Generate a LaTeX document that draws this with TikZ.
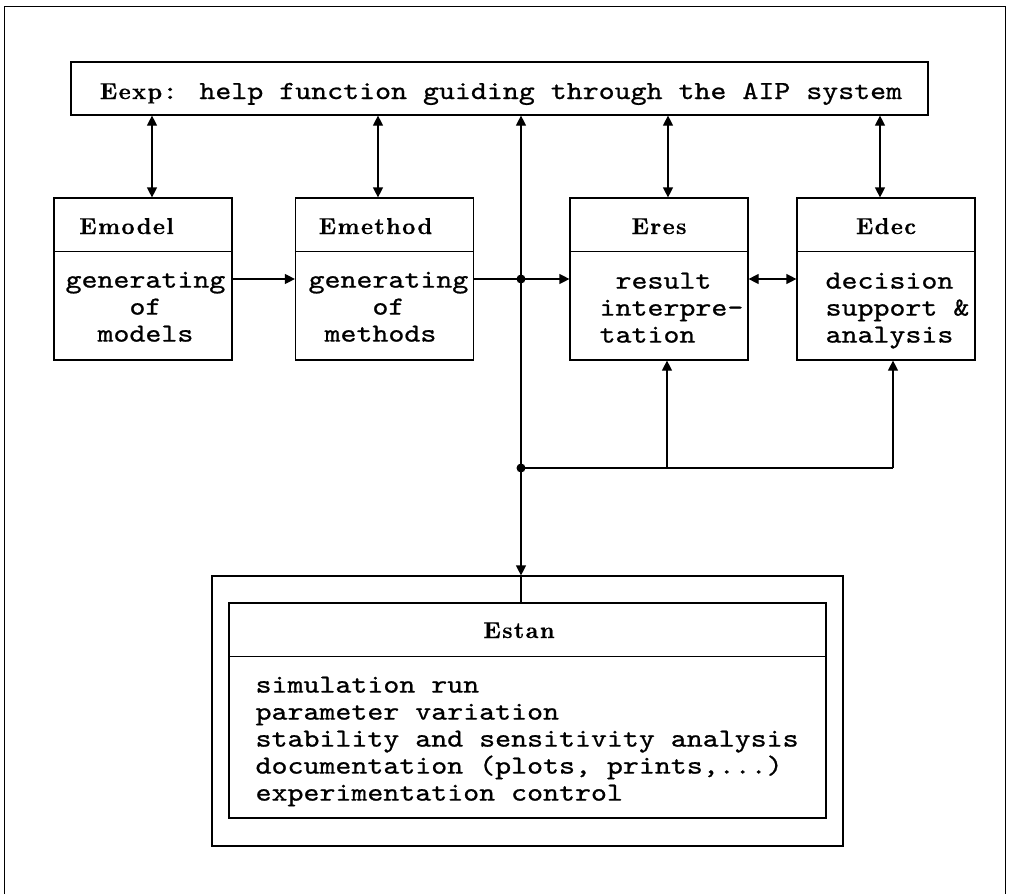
\documentclass[tikz,border=0pt]{standalone}
\usepackage{fontspec}
\usetikzlibrary{arrows.meta}

% typewriter text and the spaced bold labels of the modules
\newfontfamily\twfamily{lmmono10-regular.otf}[FakeStretch=1.17,FakeBold=0.8]
\newfontfamily\hdfamily{lmroman10-bold.otf}[LetterSpace=6,FakeBold=0.5]
\newcommand\monofont{\twfamily\fontsize{26}{27}\selectfont}
\newcommand\headfont{\hdfamily\fontsize{23}{24}\selectfont}

\begin{document}
\begin{tikzpicture}[x=1pt,y=-1pt,
  line width=1.2pt,
  >={Triangle[length=10pt,width=10pt]},
  box/.style={draw, minimum width=178pt, minimum height=162pt, inner sep=0pt},
  hd/.style={font=\headfont, inner sep=0pt, anchor=base},
  body/.style={font=\monofont, align=left, inner sep=0pt, anchor=north west}]
\useasboundingbox (0,0) rectangle (1014,894);

% frame, open at the bottom
\draw[line width=1pt] (4,894) -- (4,6) -- (1005,6) -- (1005,894);

% help function bar
\node[draw, minimum width=857pt, minimum height=53pt, inner sep=0pt] (help) at (499.5,88.5) {};
\node[inner sep=0pt, anchor=base] (help-txt) at (501,99)
  {{\headfont Eexp}{\monofont: help function guiding through the AIP system}};

% the four expert modules
\node[box] (model)  at (143,279)   {};
\node[box] (method) at (384.5,279) {};
\node[box] (eres)   at (659,279)   {};
\node[box] (edec)   at (886,279)   {};
\foreach \b in {model,method,eres,edec}
  \draw ([yshift=-54pt]\b.north west) -- ([yshift=-54pt]\b.north east);

\node[hd] (model-hd)  at (126.5,234) {Emodel};
\node[hd] (method-hd) at (375.5,234) {Emethod};
\node[hd] (eres-hd)   at (659,234)   {Eres};
\node[hd] (edec-hd)   at (886,234)   {Edec};

\node[body] (model-txt)  at (65,267)
  {\rule{0pt}{20pt}generating\\\phantom{xxxx}of\\\phantom{xx}models};
\node[body] (method-txt) at (308,267)
  {\rule{0pt}{20pt}generating\\\phantom{xxxx}of\\\phantom{x}methods};
\node[body] (eres-txt)   at (599,268)
  {\rule{0pt}{20pt}\phantom{x}result\\interpre-\\tation};
\node[body] (edec-txt)   at (825,268)
  {\rule{0pt}{20pt}decision\\support \&\\analysis};

% standard functions
\node[draw, minimum width=631pt, minimum height=270pt, inner sep=0pt] (estan-frame) at (527.5,711) {};
\node[draw, minimum width=597pt, minimum height=215pt, inner sep=0pt] (estan) at (527.5,710.5) {};
\draw ([yshift=-54pt]estan.north west) -- ([yshift=-54pt]estan.north east);
\node[hd] (estan-hd) at (519,638) {Estan};
\node[body] (estan-txt) at (255,672)
  {\rule{0pt}{20pt}simulation run\\parameter variation\\stability and sensitivity analysis\\
   documentation (plots, prints,...)\\experimentation control};

% junctions and columns of the connectors
\coordinate (j1) at (521,279);
\coordinate (j2) at (521,468);
\coordinate (k1) at (667,468);
\coordinate (k2) at (893,468);
\coordinate (a1) at (152,0);
\coordinate (a2) at (378,0);
\coordinate (a3) at (668,0);
\coordinate (a4) at (880,0);

% links to the help function
\draw[<->] (help.south -| a1) -- (model.north -| a1);
\draw[<->] (help.south -| a2) -- (method.north -| a2);
\draw[<->] (help.south -| a3) -- (eres.north -| a3);
\draw[<->] (help.south -| a4) -- (edec.north -| a4);

% flow between the modules
\draw[->] (model.east) -- (method.west);
\draw[->] (method.east) -- (eres.west);
\draw[<->] (eres.east) -- (edec.west);

% trunk line down to the standard functions
\draw[<->] (help.south -| j1) -- (estan-frame.north -| j1);
\draw (estan-frame.north -| j1) -- (estan.north -| j1);
\draw (j2) -- (k2);
\draw[->] (k1) -- (eres.south -| k1);
\draw[->] (k2) -- (edec.south -| k2);
\fill (j1) circle (4.5pt);
\fill (j2) circle (4.5pt);
\end{tikzpicture}
\end{document}
